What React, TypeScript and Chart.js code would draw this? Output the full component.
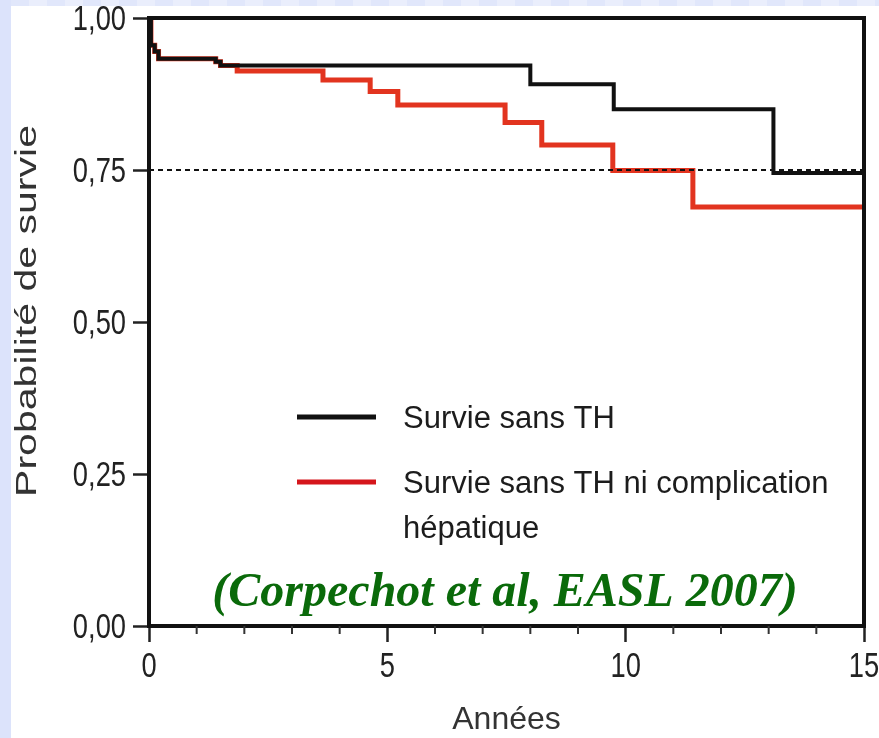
import { useEffect, useRef } from "react";
import { Chart, registerables } from "chart.js";

Chart.register(...registerables);

// Kaplan–Meier steps: time (years) and survival probability from that time on
const transplantFreeYears = [0, 0.04, 0.12, 0.2, 1.4, 1.5, 8.0, 9.75, 13.1, 15];
const transplantFreeSurvival = [1.0, 0.955, 0.945, 0.933, 0.928, 0.922, 0.891, 0.85, 0.745, 0.745];

const complicationFreeYears = [0, 0.04, 0.12, 0.2, 1.4, 1.5, 1.85, 3.65, 4.64, 5.22, 7.47, 8.24, 9.73, 11.41, 15];
const complicationFreeSurvival = [1.0, 0.955, 0.945, 0.933, 0.928, 0.922, 0.913, 0.898, 0.879, 0.857, 0.828, 0.791, 0.749, 0.689, 0.689];

const seriesLabels = ["Survie sans TH", "Survie sans TH ni complication hépatique"];
const referenceLevel = 0.75;
const referenceSpan = [0, 15];

const yAxisTitle = "Probabilité de survie";
const xAxisTitle = "Années";
const citation = "(Corpechot et al, EASL 2007)";

const sansFamily = '"Liberation Sans", Arial, sans-serif';

const toPoints = (xs: number[], ys: number[]) => xs.map((x, i) => ({ x, y: ys[i] }));

const framePlugin = {
  id: "frame",
  afterDatasetsDraw(chart: any) {
    const { ctx, chartArea } = chart;
    const { left, top, right, bottom } = chartArea;
    const xScale = chart.scales.x;
    ctx.save();
    ctx.strokeStyle = "#111";
    ctx.lineWidth = 4;
    ctx.lineJoin = "miter";
    ctx.beginPath();
    ctx.moveTo(left, bottom);
    ctx.lineTo(left, top);
    ctx.lineTo(right, top);
    ctx.lineTo(right, bottom);
    ctx.closePath();
    ctx.stroke();
    // minor year ticks
    ctx.lineWidth = 2;
    ctx.strokeStyle = "#333";
    for (let v = xScale.min + 1; v < xScale.max; v++) {
      if (v % 5 === 0) continue;
      const px = xScale.getPixelForValue(v);
      ctx.beginPath();
      ctx.moveTo(px, bottom);
      ctx.lineTo(px, bottom + 8);
      ctx.stroke();
    }
    ctx.restore();
  },
};

// Tick labels in a narrow face: the scale's own ticks, drawn horizontally condensed
const tickLabelPlugin = {
  id: "narrowTicks",
  afterDraw(chart: any) {
    const { ctx } = chart;
    const xs = chart.scales.x;
    const ys = chart.scales.y;
    ctx.save();
    ctx.font = `35px ${sansFamily}`;
    ctx.fillStyle = "#222";
    ctx.textBaseline = "middle";
    ys.ticks.forEach((t: any) => {
      const py = ys.getPixelForValue(t.value);
      ctx.save();
      ctx.translate(ys.right - 23, py + 2);
      ctx.scale(0.78, 1);
      ctx.textAlign = "right";
      ctx.fillText(t.label, 0, 0);
      ctx.restore();
    });
    xs.ticks.forEach((t: any) => {
      const px = xs.getPixelForValue(t.value);
      ctx.save();
      ctx.translate(px, xs.top + 41);
      ctx.scale(0.78, 1);
      ctx.textAlign = "center";
      ctx.fillText(t.label, 0, 0);
      ctx.restore();
    });
    ctx.restore();
  },
};

const annotationPlugin = {
  id: "annotations",
  afterDraw(chart: any) {
    const { ctx } = chart;
    ctx.save();

    // rotated y-axis title, stretched along its length
    ctx.translate(0, 305);
    ctx.rotate(-Math.PI / 2);
    ctx.font = `29px ${sansFamily}`;
    const w = ctx.measureText(yAxisTitle).width;
    ctx.scale(372 / w, 1);
    ctx.textAlign = "center";
    ctx.textBaseline = "alphabetic";
    ctx.fillStyle = "#333";
    ctx.fillText(yAxisTitle, 0, 25);
    ctx.setTransform(1, 0, 0, 1, 0, 0);

    // legend
    const legendX = 286;
    const sampleLen = 79;
    const textX = 392;
    const rowY = [411, 476];
    const colors = ["#111111", "#d5161c"];
    ctx.font = `31px ${sansFamily}`;
    ctx.fillStyle = "#1c1c1c";
    ctx.textAlign = "left";
    ctx.textBaseline = "alphabetic";
    chart.data.datasets
      .filter((d: any) => seriesLabels.includes(d.label))
      .forEach((d: any) => {
        const idx = seriesLabels.indexOf(d.label);
        const y = rowY[idx];
        ctx.strokeStyle = colors[idx];
        ctx.lineWidth = 5;
        ctx.beginPath();
        ctx.moveTo(legendX, y);
        ctx.lineTo(legendX + sampleLen, y);
        ctx.stroke();
        // wrap label into lines
        const words = d.label.split(" ");
        const lines: string[] = [];
        let cur = "";
        words.forEach((wd: string) => {
          const next = cur ? cur + " " + wd : wd;
          if (ctx.measureText(next).width > 440 && cur) {
            lines.push(cur);
            cur = wd;
          } else cur = next;
        });
        if (cur) lines.push(cur);
        lines.forEach((ln, i) => ctx.fillText(ln, textX, y + 11 + i * 45));
      });

    // citation
    ctx.font = `italic bold 48px "Liberation Serif", "Times New Roman", serif`;
    ctx.fillStyle = "#0a6a0a";
    ctx.textAlign = "center";
    ctx.fillText(citation, 494, 600);
    ctx.restore();
  },
};

export default function App() {
  const canvasRef = useRef<HTMLCanvasElement | null>(null);

  useEffect(() => {
    const canvas = canvasRef.current;
    if (!canvas) return;
    const chart = new Chart(canvas, {
      type: "line",
      data: {
        datasets: [
          {
            label: seriesLabels[0],
            data: toPoints(transplantFreeYears, transplantFreeSurvival),
            borderColor: "#111111",
            borderWidth: 4,
            stepped: true,
            pointRadius: 0,
            fill: false,
          },
          {
            label: "ref",
            data: referenceSpan.map((x) => ({ x, y: referenceLevel })),
            borderColor: "#111111",
            borderWidth: 2,
            borderDash: [5, 4],
            pointRadius: 0,
            fill: false,
          },
          {
            label: seriesLabels[1],
            data: toPoints(complicationFreeYears, complicationFreeSurvival),
            borderColor: "#e2341f",
            borderWidth: 5,
            stepped: true,
            pointRadius: 0,
            fill: false,
          },
        ],
      },
      options: {
        responsive: false,
        animation: false,
        layout: { padding: { left: 0, top: 12, right: 15, bottom: 0 } },
        plugins: { legend: { display: false }, tooltip: { enabled: false } },
        scales: {
          x: {
            type: "linear",
            min: 0,
            max: 15,
            afterFit: (s: any) => {
              s.height = 112;
              s.paddingLeft = 0;
              s.paddingRight = 0;
            },
            ticks: {
              display: false,
              stepSize: 5,
              maxRotation: 0,
            },
            grid: {
              drawOnChartArea: false,
              tickLength: 16,
              tickWidth: 2.5,
              tickColor: "#222",
            },
            border: { color: "#111", width: 4 },
            title: {
              display: true,
              text: xAxisTitle,
              color: "#333",
              font: { family: sansFamily, size: 32, lineHeight: 1 },
              padding: { top: 0, bottom: 2 },
            },
          },
          y: {
            type: "linear",
            min: 0,
            max: 1,
            afterFit: (s: any) => {
              s.width = 138;
              s.paddingTop = 0;
              s.paddingBottom = 0;
            },
            ticks: {
              display: false,
              stepSize: 0.25,
              callback: (v: any) => Number(v).toFixed(2).replace(".", ","),
            },
            grid: {
              drawOnChartArea: false,
              tickLength: 16,
              tickWidth: 2.5,
              tickColor: "#222",
            },
            border: { color: "#111", width: 4 },
          },
        },
      },
      plugins: [framePlugin, tickLabelPlugin, annotationPlugin],
    });
    return () => chart.destroy();
  }, []);

  return (
    <div
      style={{
        position: "fixed",
        left: 0,
        top: 0,
        width: 879,
        height: 738,
        background: "#dce3fb",
      }}
    >
      <div
        style={{
          position: "absolute",
          left: 11,
          top: 0,
          width: 868,
          height: 6,
          background: "repeating-linear-gradient(90deg, #e1e7fb 0px, #e1e7fb 18px, #eaeefc 18px, #eaeefc 36px)",
        }}
      />
      <canvas
        ref={canvasRef}
        width={868}
        height={732}
        style={{ position: "absolute", left: 11, top: 6, background: "#fff" }}
      />
    </div>
  );
}
